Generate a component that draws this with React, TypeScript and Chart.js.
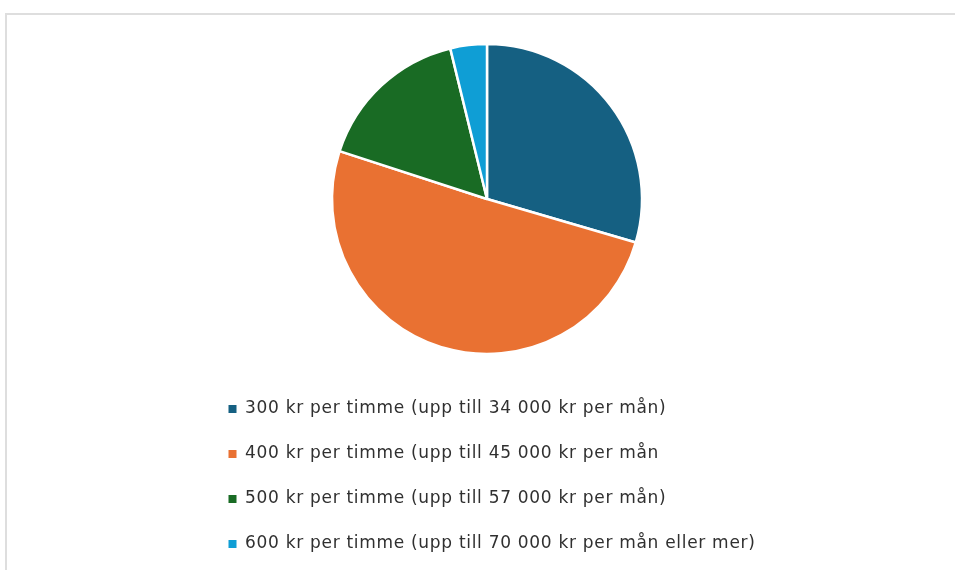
import React, { useEffect, useRef } from "react";
import { Chart, registerables } from "chart.js";

Chart.register(...registerables);

const categories = [
  "300 kr per timme (upp till 34 000 kr per mån)",
  "400 kr per timme (upp till 45 000 kr per mån",
  "500 kr per timme (upp till 57 000 kr per mån)",
  "600 kr per timme (upp till 70 000 kr per mån eller mer)",
];
const values = [31, 53, 17, 4];
const colors = ["#156082", "#E97132", "#196B24", "#0F9ED5"];

const spacingPlugin = {
  id: "letterSpacing",
  beforeUpdate(chart: any) {
    (chart.ctx as any).letterSpacing = "0.7px";
  },
  beforeDraw(chart: any) {
    (chart.ctx as any).letterSpacing = "0.7px";
  },
};

export default function App() {
  const ref = useRef<HTMLCanvasElement | null>(null);
  useEffect(() => {
    if (!ref.current) return;
    const chart = new Chart(ref.current, {
      type: "pie",
      data: {
        labels: categories,
        datasets: [
          {
            data: values,
            backgroundColor: colors,
            borderColor: "#ffffff",
            borderWidth: 2.5,
            radius: 155,
          },
        ],
      },
      plugins: [spacingPlugin],
      options: {
        animation: false,
        responsive: false,
        events: [],
        layout: { padding: { top: 25.5, bottom: 7.5, left: 200.5, right: 181.5 } },
        plugins: {
          tooltip: { enabled: false },
          legend: {
            position: "bottom",
            align: "start",
            labels: {
              boxWidth: 8,
              boxHeight: 8,
              padding: 28,
              color: "#303030",
              font: { family: "DejaVu Sans", size: 17 },
              generateLabels(chart: any) {
                const base = Chart.overrides.pie.plugins.legend.labels.generateLabels(chart);
                return base.map((item: any) => ({ ...item, lineWidth: 0, strokeStyle: item.fillStyle }));
              },
            },
          },
        },
      },
    });
    return () => chart.destroy();
  }, []);
  return (
    <div style={{ position: "absolute", left: 0, top: 0, width: 955, height: 570, overflow: "hidden", background: "#fff" }}>
      <div
        style={{
          position: "absolute",
          left: 5,
          top: 13,
          width: 1000,
          height: 600,
          border: "2px solid #dedede",
          boxSizing: "border-box",
        }}
      />
      <canvas ref={ref} width={955} height={570} style={{ position: "absolute", left: 0, top: 0 }} />
    </div>
  );
}
